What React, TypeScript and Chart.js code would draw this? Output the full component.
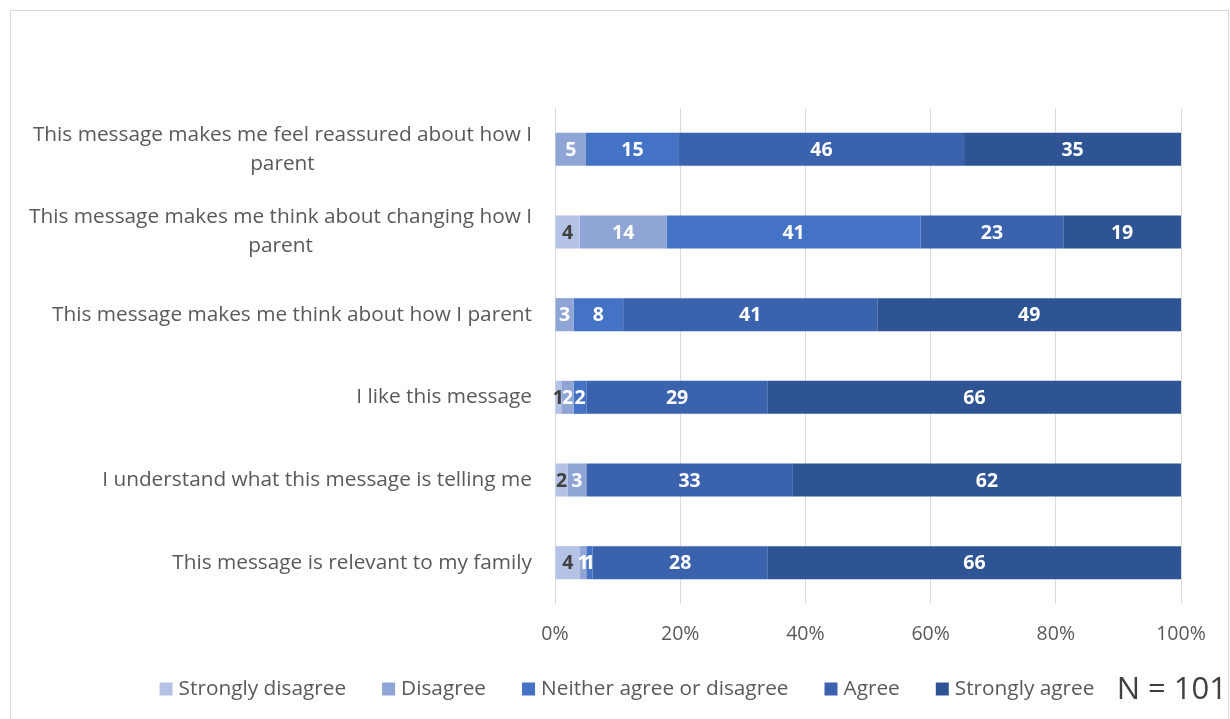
import React, { useEffect, useRef } from "react";
import { Chart, registerables } from "chart.js";
Chart.register(...registerables);

const categories: string[][] = [
  ["This message makes me feel reassured about how I", "parent"],
  ["This message makes me think about changing how I", "parent"],
  ["This message makes me think about how I parent"],
  ["I like this message"],
  ["I understand what this message is telling me"],
  ["This message is relevant to my family"],
];
const seriesNames = ["Strongly disagree", "Disagree", "Neither agree or disagree", "Agree", "Strongly agree"];
const stronglyDisagree = [0, 4, 0, 1, 2, 4];
const disagree = [5, 14, 3, 2, 3, 1];
const neither = [15, 41, 8, 2, 0, 1];
const agree = [46, 23, 41, 29, 33, 28];
const stronglyAgree = [35, 19, 49, 66, 62, 66];
const xTicks = [0, 20, 40, 60, 80, 100];
const sampleNote = "N = 101";

const colors = ["#b4c2e5", "#8fa5d6", "#4472c4", "#3b63ad", "#2f5493"];
const FONT = "'Open Sans', Lato, sans-serif";

export default function App() {
  const ref = useRef<HTMLCanvasElement | null>(null);
  useEffect(() => {
    if (!ref.current) return;
    const raw = [stronglyDisagree, disagree, neither, agree, stronglyAgree];
    const totals = categories.map((_, i) => raw.reduce((s, arr) => s + arr[i], 0));
    const datasets = raw.map((arr, k) => ({
      label: seriesNames[k],
      data: arr.map((v, i) => (v / totals[i]) * 100),
      rawValues: arr,
      backgroundColor: colors[k],
      borderWidth: 0,
      barPercentage: 0.8,
      categoryPercentage: 0.5,
    }));

    const plugin = {
      id: "custom",
      beforeDraw(chart: any) {
        const ctx = chart.ctx;
        ctx.save();
        ctx.strokeStyle = "#d9d9d9";
        ctx.lineWidth = 1;
        ctx.strokeRect(10.5, 10.5, 1218, 720);
        ctx.restore();
      },
      afterDraw(chart: any) {
        const ctx = chart.ctx;
        const yScale = chart.scales.y;
        ctx.save();
        // y labels
        ctx.font = `20.8px ${FONT}`;
        ctx.fillStyle = "#595959";
        ctx.textBaseline = "middle";
        const right = chart.chartArea.left - 23;
        categories.forEach((lines, i) => {
          const yc = yScale.getPixelForValue(i);
          if (lines.length === 1) {
            ctx.textAlign = "right";
            ctx.fillText(lines[0], right, yc);
          } else {
            const w = ctx.measureText(lines[0]).width;
            const cx = right - w / 2;
            ctx.textAlign = "center";
            const lh = 29;
            lines.forEach((ln, j) => {
              ctx.fillText(ln, cx, yc + (j - (lines.length - 1) / 2) * lh);
            });
          }
        });
        // data labels
        ctx.font = `bold 19.5px ${FONT}`;
        ctx.textAlign = "center";
        chart.data.datasets.forEach((ds: any, k: number) => {
          const meta = chart.getDatasetMeta(k);
          meta.data.forEach((el: any, i: number) => {
            const v = ds.rawValues[i];
            if (!v) return;
            const cx = (el.x + el.base) / 2;
            ctx.fillStyle = k === 0 ? "#404040" : "#ffffff";
            ctx.fillText(String(v), cx, el.y + 1);
          });
        });
        // legend
        ctx.font = `20.8px ${FONT}`;
        ctx.textAlign = "left";
        const box = 13, gapT = 6, gapI = 36;
        const widths = seriesNames.map((n) => ctx.measureText(n).width);
        const total = widths.reduce((s, w) => s + box + gapT + w, 0) + gapI * (seriesNames.length - 1);
        let x = 627 - total / 2;
        const ly = 689;
        seriesNames.forEach((n, k) => {
          ctx.fillStyle = colors[k];
          ctx.fillRect(x, ly - box / 2, box, box);
          ctx.fillStyle = "#595959";
          ctx.fillText(n, x + box + gapT, ly);
          x += box + gapT + widths[k] + gapI;
        });
        // N note
        ctx.font = `31px ${FONT}`;
        ctx.fillStyle = "#404040";
        ctx.textAlign = "right";
        ctx.fillText(sampleNote, 1227, 690);
        ctx.restore();
      },
    };

    const chart = new Chart(ref.current, {
      type: "bar",
      data: { labels: categories.map((c) => c.join(" ")), datasets: datasets as any },
      options: {
        indexAxis: "y",
        animation: false,
        responsive: false,
        maintainAspectRatio: false,
        layout: { padding: { left: 0, right: 49, top: 108, bottom: 55 } },
        plugins: { legend: { display: false }, tooltip: { enabled: false } },
        scales: {
          x: {
            stacked: true,
            min: 0,
            max: 100,
            afterBuildTicks: (scale: any) => {
              scale.ticks = xTicks.map((v) => ({ value: v }));
            },
            afterFit: (scale: any) => {
              scale.height = 60;
            },
            ticks: {
              callback: (v: any) => v + "%",
              color: "#595959",
              font: { size: 19.5, family: FONT },
              padding: 19,
            },
            grid: { color: "#d9d9d9", drawTicks: false, lineWidth: 1 },
            border: { display: false },
          },
          y: {
            stacked: true,
            ticks: { display: false },
            grid: { display: false },
            border: { display: false },
            afterFit: (scale: any) => {
              scale.width = 555;
            },
          },
        },
      },
      plugins: [plugin],
    });
    return () => chart.destroy();
  }, []);
  return (
    <div style={{ position: "fixed", left: 0, top: 0, width: 1230, height: 719, background: "#fff" }}>
      <canvas ref={ref} width={1230} height={719} style={{ width: 1230, height: 719, display: "block" }} />
    </div>
  );
}
